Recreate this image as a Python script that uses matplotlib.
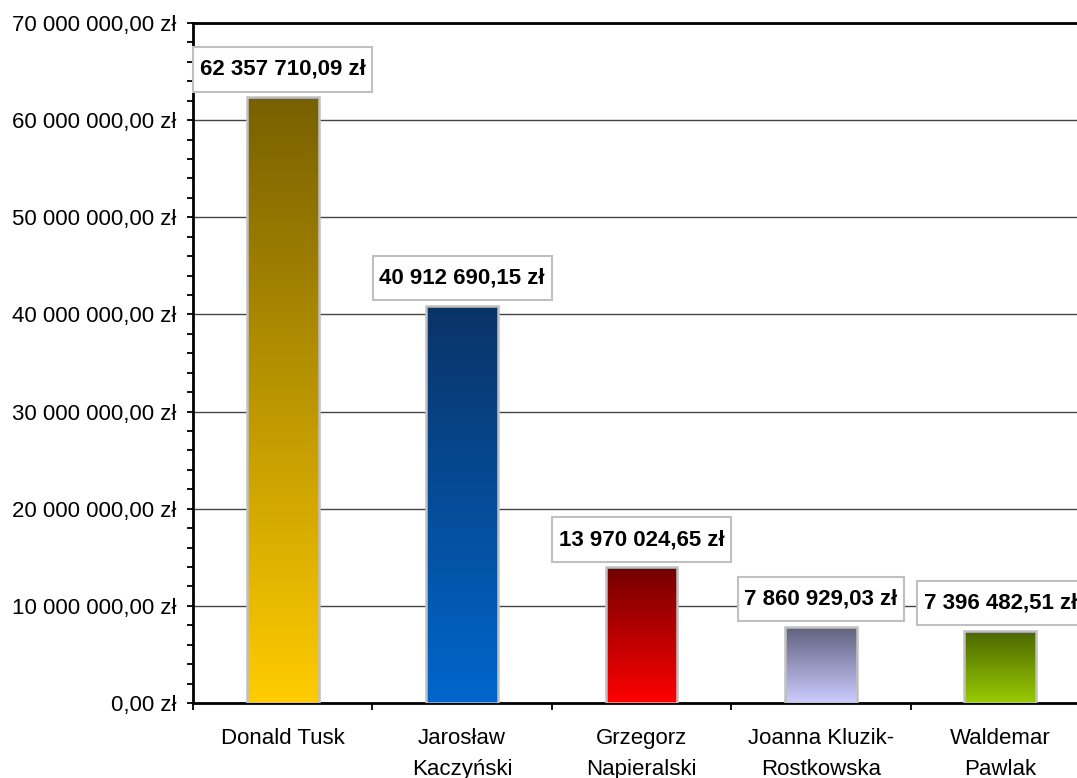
import matplotlib.pyplot as plt
import numpy as np
from matplotlib.colors import LinearSegmentedColormap
from matplotlib.path import Path
from matplotlib.ticker import FixedLocator, MultipleLocator, FuncFormatter

plt.rcParams['font.family'] = ['Liberation Sans', 'DejaVu Sans']

# dane
kandydaci = ["Donald Tusk", "Jarosław\nKaczyński", "Grzegorz\nNapieralski",
             "Joanna Kluzik-\nRostkowska", "Waldemar\nPawlak"]
kwoty = [62357710.09, 40912690.15, 13970024.65, 7860929.03, 7396482.51]

# kolory gradientu słupków (góra, dół)
kolory_gora = ["#786000", "#0a3366", "#730000", "#5f5f7e", "#4a6600"]
kolory_dol = ["#ffcc00", "#0066cc", "#ff0000", "#ccccff", "#99cc00"]


def zl(v, pos=None):
    return f"{v:,.2f}".replace(",", " ").replace(".", ",") + " zł"


def ramka(x0, y0, width, height, mutation_size):
    # prostokąt z większym marginesem w pionie niż w poziomie
    px = 0.3 * mutation_size
    py = 0.52 * mutation_size
    x0, y0 = x0 - px, y0 - py
    x1, y1 = x0 + width + 2 * px, y0 + height + 2 * py
    return Path([(x0, y0), (x1, y0), (x1, y1), (x0, y1), (x0, y0)], closed=True)


fig = plt.figure(figsize=(10.77, 7.78), dpi=100)
ax = fig.add_axes([193 / 1077, 75 / 778, 897 / 1077, 680 / 778])

x = np.arange(len(kandydaci))
bars = ax.bar(x, kwoty, width=0.4, facecolor="none",
              edgecolor="#c0c0c0", linewidth=1.8, zorder=4)

# wypełnienie gradientem
grad = np.linspace(0, 1, 256).reshape(-1, 1)
for b, c_top, c_bot in zip(bars, kolory_gora, kolory_dol):
    cmap = LinearSegmentedColormap.from_list("g", [c_bot, c_top])
    x0 = b.get_x()
    w = b.get_width()
    h = b.get_height()
    im = ax.imshow(grad, cmap=cmap, origin="lower", aspect="auto",
                   extent=[x0, x0 + w, 0, h], zorder=3)
    im.set_clip_path(b)

# etykiety wartości
for i, v in enumerate(kwoty):
    ax.annotate(zl(v), xy=(i, v), xytext=(0, 20), textcoords="offset points",
                ha="center", va="center", fontsize=16, fontweight="bold",
                bbox=dict(boxstyle=ramka, fc="white", ec="#c0c0c0", lw=1.5),
                annotation_clip=False, zorder=6)

ax.set_xlim(-0.5, len(kandydaci) - 0.5)
ax.set_ylim(0, 70e6)

# oś Y
ax.yaxis.set_major_locator(MultipleLocator(10e6))
ax.yaxis.set_minor_locator(MultipleLocator(2e6))
ax.yaxis.set_major_formatter(FuncFormatter(zl))
ax.tick_params(axis="y", which="both", direction="out", length=4,
               width=1.3, labelsize=16, pad=8)
ax.yaxis.grid(True, which="major", color="#444444", linewidth=1)
ax.set_axisbelow(True)

# oś X - kreski między kategoriami, podpisy pośrodku
ax.xaxis.set_major_locator(FixedLocator(np.arange(-0.5, len(kandydaci), 1.0)))
ax.xaxis.set_major_formatter(FuncFormatter(lambda v, p: ""))
ax.xaxis.set_minor_locator(FixedLocator(x))
ax.set_xticklabels(kandydaci, minor=True, fontsize=16, linespacing=1.6,
                   va="top")
ax.tick_params(axis="x", which="major", direction="out", length=5, width=1.3)
ax.tick_params(axis="x", which="minor", length=0, pad=18)

for s in ["left", "bottom", "top"]:
    ax.spines[s].set_linewidth(2)
    ax.spines[s].set_color("black")
ax.spines["right"].set_visible(False)

fig.savefig("out.png", dpi=100)
